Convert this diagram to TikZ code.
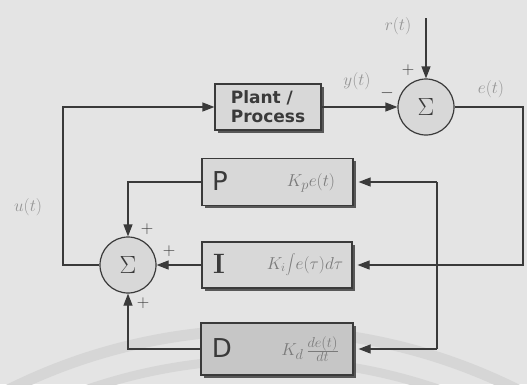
\documentclass[tikz,border=0pt]{standalone}
\usepackage{fontspec}
\newfontfamily\dejavu{DejaVu Sans}
\usetikzlibrary{arrows.meta,shadows}
\definecolor{bgc}{HTML}{E4E4E4}
\definecolor{arcc}{HTML}{D6D6D6}
\definecolor{boxc}{HTML}{D8D8D8}
\definecolor{dboxc}{HTML}{C6C6C6}
\definecolor{linec}{HTML}{3A3A3A}
\definecolor{labc}{HTML}{959595}
\definecolor{formc}{HTML}{7A7A7A}
\begin{document}
\begin{tikzpicture}[x=1pt,y=-1pt,
  wire/.style={draw=linec,line width=1.2pt},
  arr/.style={wire,-{Triangle[length=12pt,width=9pt]}},
  blk/.style={draw=linec,line width=1.2pt,fill=boxc,rectangle,inner sep=0pt,
    drop shadow={shadow xshift=2.5pt,shadow yshift=-2.5pt,fill=black!75,opacity=0.85}},
  sumc/.style={draw=linec,line width=1.2pt,fill=boxc,circle,inner sep=0pt,minimum size=56pt,
    text=linec,font=\fontsize{36}{36}\selectfont},
  lab/.style={text=labc,font=\fontsize{18}{18}\selectfont},
  sgn/.style={text=linec,font=\fontsize{16}{16}\selectfont},
  letter/.style={text=linec,font=\dejavu\fontsize{26}{26}\selectfont},
  form/.style={text=formc,font=\fontsize{19}{19}\selectfont}]
\fill[bgc] (0,0) rectangle (527,384);
\useasboundingbox (0,0) rectangle (527,384);

% faint watermark arcs
\begin{scope}
\clip (0,0) rectangle (527,384);
\draw[arcc,line width=11pt] (263,900) circle[radius=570pt];
\draw[arcc,line width=9pt] (263,900) circle[radius=540pt];
\end{scope}

% blocks
\node[blk,minimum width=106pt,minimum height=46pt,align=left,
  font=\dejavu\bfseries\fontsize{17}{19}\selectfont,text=linec] (plant) at (268,107) {Plant /\\Process};
\node[sumc] (s1) at (426,107) {$\Sigma$};
\node[sumc] (s2) at (128,265) {$\Sigma$};
\node[blk,minimum width=151pt,minimum height=47pt] (pb) at (277.5,182) {};
\node[blk,minimum width=150pt,minimum height=46pt] (ib) at (277,265) {};
\node[blk,fill=dboxc,minimum width=152pt,minimum height=52pt] (db) at (277,349) {};

% block contents
\node[letter] (pl) at (220,181) {P};
\node[form] (pf) at (311,183) {$K_p e(t)$};
\node[letter,font=\fontsize{28}{28}\selectfont\bfseries] (il) at (219,264) {I};
\node[form,font=\fontsize{17}{17}\selectfont] (if) at (305,265) {$K_i\!\displaystyle\int\! e(\tau)d\tau$};
\node[letter] (dl) at (222,348) {D};
\node[form] (df) at (310,349) {$K_d\,\frac{de(t)}{dt}$};

% coordinates
\coordinate (rT) at (426,18);
\coordinate (eR) at (523,107);
\coordinate (uL) at (63,265);
\coordinate (v1) at (437,182);
\coordinate (v2) at (437,349);

% connectors
\draw[arr] (rT) -- (s1.north);
\draw[arr] (plant.east) -- (s1.west);
\draw[arr,shorten >=5pt] (s1.east) -- (eR) |- (ib.east);
\draw[wire] (v1) -- (v2);
\draw[arr,shorten >=5pt] (v1) -- (pb.east);
\draw[arr,shorten >=5pt] (v2) -- (db.east);
\draw[arr] (s2.west) -- (uL) |- (plant.west);
\draw[arr] (pb.west) -| (s2.north);
\draw[arr] (ib.west) -- (s2.east);
\draw[arr] (db.west) -| (s2.south);

% labels
\node[lab] (lr) at (398,26) {$r(t)$};
\node[lab] (ly) at (357,81) {$y(t)$};
\node[lab] (le) at (491,89) {$e(t)$};
\node[lab] (lu) at (28,207) {$u(t)$};
\node[sgn] (p1) at (408,70) {$+$};
\node[sgn] (m1) at (387,93) {$-$};
\node[sgn] (p2) at (147,229) {$+$};
\node[sgn] (p3) at (169,251) {$+$};
\node[sgn] (p4) at (143,303) {$+$};
\end{tikzpicture}
\end{document}
